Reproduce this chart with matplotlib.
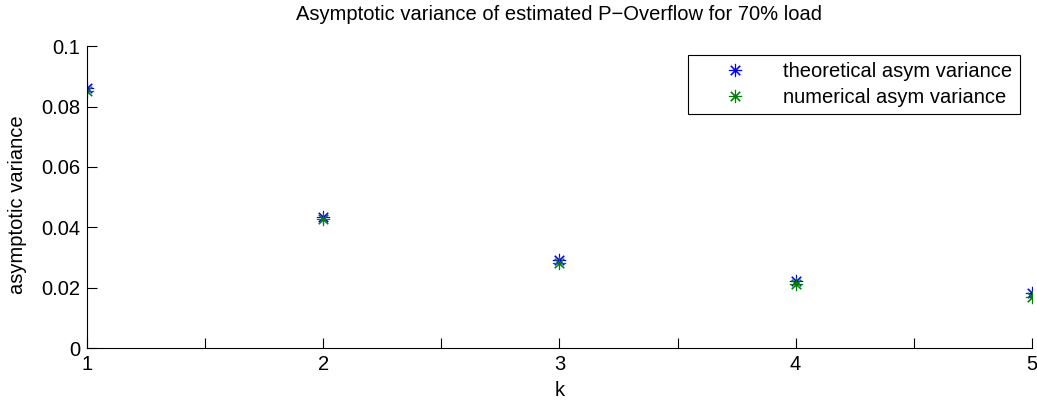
import matplotlib.pyplot as plt

plt.rcParams['font.family'] = ['Liberation Sans', 'DejaVu Sans']

k = [1, 2, 3, 4, 5]
theoretical = [0.0862, 0.0435, 0.0293, 0.0222, 0.0181]
numerical = [0.0850, 0.0427, 0.0282, 0.0212, 0.0170]

fs = 14.5
star = (8, 2, 0)  # 8-spoke asterisk like MATLAB '*'

fig = plt.figure(figsize=(10.37, 4.01), dpi=100)
ax = fig.add_axes([0.0839, 0.132, 0.9111, 0.753])

ax.plot(k, theoretical, marker=star, color='#0000ff', markersize=9.5, markeredgewidth=0.8,
        linestyle='none', label='theoretical asym variance')
ax.plot(k, numerical, marker=star, color='#008000', markersize=9.5, markeredgewidth=0.8,
        linestyle='none', label='numerical asym variance')

ax.set_xlim(1, 5)
ax.set_ylim(0, 0.1)
ax.set_xticks([1, 1.5, 2, 2.5, 3, 3.5, 4, 4.5, 5])
ax.set_xticklabels(['1', '', '2', '', '3', '', '4', '', '5'])
ax.set_yticks([0, 0.02, 0.04, 0.06, 0.08, 0.1])
ax.set_yticklabels(['0', '0.02', '0.04', '0.06', '0.08', '0.1'])
ax.tick_params(direction='in', length=7, width=0.8, labelsize=fs, pad=5)
ax.spines['top'].set_visible(False)
ax.spines['right'].set_visible(False)

ax.set_xlabel('k', fontsize=fs, labelpad=5)
ax.set_ylabel('asymptotic variance', fontsize=fs)
ax.yaxis.set_label_coords(-0.064, 0.474)
ax.set_title('Asymptotic variance of estimated P\u2212Overflow for 70% load', fontsize=fs, pad=19)

leg = ax.legend(loc='upper right', bbox_to_anchor=(0.987, 0.970), borderaxespad=0,
                fontsize=fs, fancybox=False, edgecolor='black', framealpha=1,
                handlelength=4.0, handletextpad=0.4, labelspacing=0.35, borderpad=0.35)
leg.get_frame().set_linewidth(0.8)

plt.savefig('out.png')
